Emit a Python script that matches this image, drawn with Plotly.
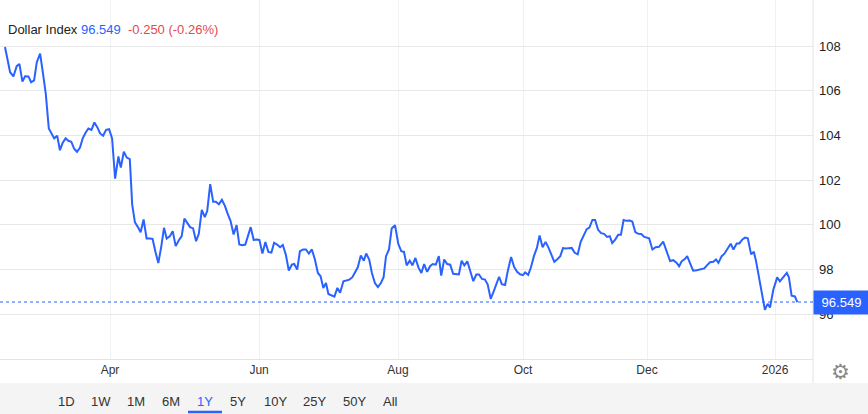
import plotly.graph_objects as go

# ---------------- data ----------------
session = [
    0.0, 1.7, 2.8, 3.9, 4.8, 5.8, 6.7, 7.8, 8.7, 9.7, 10.6, 11.7, 12.6, 13.6, 14.6, 15.6,
    16.4, 17.4, 18.3, 19.2, 20.2, 21.1, 22.1, 23.0, 24.0, 25.0, 25.9, 26.9, 27.8, 28.8,
    29.8, 30.8, 31.7, 32.7, 33.7, 34.7, 35.7, 36.7, 37.8, 38.6, 39.6, 40.6, 41.6, 42.4,
    43.3, 44.3, 45.2, 46.2, 47.2, 48.3, 49.2, 50.1, 51.1, 52.1,
    53.0, 53.9, 55.0, 55.9, 56.9, 57.9, 58.9, 59.8, 60.8, 61.7, 62.7, 63.7, 64.6, 65.6,
    66.6, 67.4, 68.4, 69.4, 70.3, 71.3, 72.3, 73.3, 74.2, 75.2, 76.2, 77.2, 78.1, 79.1,
    80.1, 81.0, 81.9, 82.9, 83.9, 84.8, 85.8, 86.8, 87.8, 88.8, 89.7, 90.7, 91.7, 92.6,
    93.6, 94.6, 95.6, 96.4, 97.4, 98.3, 99.4, 100.3, 101.3, 102.3, 103.3, 104.3, 105.2,
    106.1, 107.0,
    107.8, 108.9, 109.8, 110.8, 111.7, 112.8, 113.9, 114.8, 115.8, 116.7, 117.6, 118.6,
    119.6, 120.4, 121.4, 122.3, 123.3, 124.3, 125.3, 126.2, 127.0, 128.0, 128.9, 130.0,
    131.1, 132.1, 133.0, 133.9, 134.9, 135.8, 136.8, 137.8, 138.8, 139.7, 140.7, 141.7,
    142.6, 143.6, 144.6, 145.4, 146.4, 147.4, 148.4, 149.4, 150.4, 151.3, 152.2, 153.1,
    154.1, 155.1, 156.1, 157.1, 158.0, 159.0, 160.0, 160.9,
    161.9, 162.8, 163.7, 164.7, 165.6, 166.7, 167.6, 168.7, 169.7, 170.7, 171.7, 172.6,
    173.4, 174.4, 175.3, 176.3, 177.3, 178.2, 179.2, 180.2, 181.2, 182.1, 183.1, 184.1,
    185.1, 186.0, 187.0, 187.9, 188.9, 189.9, 190.9, 191.9, 192.9, 193.9, 194.8, 195.8,
    196.7, 197.7, 198.7, 199.7, 200.7, 201.6, 202.4, 203.4, 204.4, 205.3, 206.2, 207.2,
    208.2, 209.1, 210.1, 211.1, 212.1, 213.1,
    214.7, 215.8, 216.9, 218.0, 219.4, 220.6, 221.7, 222.8, 223.9, 224.7, 225.6, 226.7,
    227.4, 228.3, 229.4, 230.6, 231.7, 233.1, 233.9, 235.0, 236.1, 237.0, 237.8, 238.9,
    239.8, 240.9, 241.9, 242.8, 243.9, 244.8, 245.8, 246.7, 247.6, 248.7, 249.6, 250.3,
    251.1, 252.2, 253.3, 254.2, 255.0, 256.1, 257.4, 258.3, 259.4, 260.6, 261.3, 262.2,
    263.3, 264.1,
]

dxy = [
    107.96, 106.83, 106.64, 107.10, 107.20, 106.41, 106.65, 106.64, 106.38, 106.46, 107.28,
    107.66, 106.83, 105.86, 104.31, 104.09, 103.87, 103.99, 103.34, 103.66, 103.87, 103.76,
    103.72, 103.42, 103.27, 103.46, 103.87, 104.13, 104.31, 104.25, 104.58, 104.36, 104.09,
    103.99, 104.25, 104.28, 103.87, 102.07, 103.06, 102.56, 103.27, 103.01, 102.94, 100.91,
    100.12, 99.90, 99.67, 100.24, 99.39, 99.39, 99.37, 98.82, 98.29, 99.04,
    99.87, 99.39, 99.50, 99.72, 99.05, 99.30, 99.50, 100.28, 100.05, 99.90, 99.84, 99.27,
    99.60, 100.67, 100.35, 100.62, 101.82, 101.03, 101.03, 100.92, 101.12, 100.85, 100.50,
    100.17, 99.57, 99.99, 99.12, 99.09, 99.12, 99.50, 99.90, 99.32, 99.35, 99.33, 98.72,
    99.23, 98.79, 98.76, 99.20, 99.12, 99.00, 99.10, 98.67, 97.96, 98.22, 98.25, 98.00,
    98.82, 98.90, 98.90, 98.72, 98.90, 98.45, 97.85, 97.70, 97.18, 97.40,
    96.91, 96.84, 96.79, 97.18, 96.96, 97.48, 97.51, 97.55, 97.66, 97.85, 98.10, 98.63,
    98.40, 98.72, 98.45, 97.85, 97.40, 97.22, 97.40, 97.66, 98.60, 98.90, 99.84, 99.99,
    99.15, 98.82, 98.79, 98.19, 98.40, 98.19, 98.52, 98.10, 97.85, 98.25, 97.90, 98.15,
    98.25, 98.22, 98.60, 97.73, 98.45, 98.25, 98.22, 97.81, 97.78, 97.78, 98.40, 98.19,
    98.37, 97.90, 97.48, 97.78, 97.78, 97.58, 97.55, 97.33,
    96.69, 96.99, 97.35, 97.68, 97.35, 97.31, 97.94, 98.56, 98.12, 97.90, 97.79, 97.75,
    97.87, 97.76, 98.09, 98.60, 98.97, 99.53, 99.00, 99.24, 98.97, 98.71, 98.35, 98.46,
    98.60, 98.96, 98.94, 98.96, 98.97, 98.75, 98.68, 99.24, 99.56, 99.81, 99.88, 100.22,
    100.22, 99.78, 99.63, 99.60, 99.46, 99.49, 99.19, 99.34, 99.56, 99.56, 100.22, 100.18,
    100.19, 100.15, 99.68, 99.60, 99.59, 99.46,
    99.40, 98.90, 99.00, 99.02, 99.25, 98.75, 98.38, 98.42, 98.30, 98.15, 98.38, 98.48,
    98.60, 98.30, 97.95, 97.97, 98.00, 98.05, 98.18, 98.33, 98.35, 98.45, 98.30, 98.60,
    98.71, 98.95, 99.16, 98.90, 99.17, 99.17, 99.35, 99.43, 99.40, 98.68, 98.80, 98.41,
    97.80, 97.02, 96.20, 96.47, 96.30, 97.10, 97.65, 97.47, 97.67, 97.85, 97.65, 96.83,
    96.80, 96.549,
]

x_tick_sessions = [35, 84.7, 131, 172.7, 214, 256.7]
x_tick_labels = ["Apr", "Jun", "Aug", "Oct", "Dec", "2026"]
y_ticks = [96, 98, 100, 102, 104, 106, 108]

series_name = "Dollar Index"
last_value = 96.549
change = -0.250
change_pct = -0.26

range_buttons = ["1D", "1W", "1M", "6M", "1Y", "5Y", "10Y", "25Y", "50Y", "All"]
active_button = "1Y"

# ---------------- layout constants ----------------
W, H = 868, 414
PLOT_W, PLOT_H = 813, 359
BLUE = "#2962ff"
RED = "#e5484d"
FONT = "Arial, Liberation Sans, sans-serif"


def px_x(px):
    return px / PLOT_W


def px_y(py):
    return (PLOT_H - py) / PLOT_H


fig = go.Figure()
fig.add_trace(go.Scatter(
    x=session, y=dxy, mode="lines",
    line=dict(color=BLUE, width=2), hoverinfo="skip", showlegend=False,
))

shapes = [
    # bottom control band
    dict(type="rect", xref="paper", yref="paper", x0=0, x1=W / PLOT_W,
         y0=px_y(383), y1=px_y(H + 2), fillcolor="#f4f4f4", line=dict(width=0), layer="below"),
    # right separator line
    dict(type="line", xref="paper", yref="paper", x0=1, x1=1, y0=px_y(383), y1=1,
         line=dict(color="#e3e3e3", width=1)),
    # last value dotted line
    dict(type="line", xref="paper", yref="y", x0=0, x1=1, y0=last_value, y1=last_value,
         line=dict(color=BLUE, width=1, dash="dot")),
]

annotations = [
    dict(xref="paper", yref="paper", x=px_x(6), y=px_y(30), xanchor="left", yanchor="middle",
         showarrow=False, font=dict(family=FONT, size=13, color="#222"),
         text=(f"{series_name} <span style='color:{BLUE}'>{last_value:.3f}</span>"
               f"&nbsp;&nbsp;<span style='color:{RED}'>{change:.3f} ({change_pct:.2f}%)</span>")),
    dict(xref="paper", yref="y", x=1, y=last_value, xanchor="left", yanchor="middle",
         showarrow=False, text=f"{last_value:.3f}", bgcolor=BLUE, width=51, height=19,
         borderpad=2, font=dict(family=FONT, size=13, color="white")),
    dict(xref="paper", yref="paper", x=px_x(840), y=px_y(372), xanchor="center",
         yanchor="middle", showarrow=False, text="⚙", font=dict(size=21, color="#888")),
]

button_x = [66, 101, 136, 171, 205, 238, 275, 314, 354, 390]
for label, bx in zip(range_buttons, button_x):
    annotations.append(dict(
        xref="paper", yref="paper", x=px_x(bx), y=px_y(401), xanchor="center", yanchor="middle",
        showarrow=False, text=label,
        font=dict(family=FONT, size=13, color=BLUE if label == active_button else "#333"),
    ))
    if label == active_button:
        shapes.append(dict(type="line", xref="paper", yref="paper",
                           x0=px_x(bx - 17), x1=px_x(bx + 17), y0=px_y(412), y1=px_y(412),
                           line=dict(color=BLUE, width=2.5)))

fig.update_layout(
    width=W, height=H,
    margin=dict(l=0, r=W - PLOT_W, t=0, b=H - PLOT_H),
    paper_bgcolor="white", plot_bgcolor="white",
    font=dict(family=FONT, color="#222"),
    shapes=shapes, annotations=annotations,
    xaxis=dict(
        range=[-5 / 3, (PLOT_W - 5) / 3], tickvals=x_tick_sessions, ticktext=x_tick_labels,
        showgrid=True, gridcolor="#eef2f2", gridwidth=1, zeroline=False,
        showline=True, linecolor="#e3e3e3", linewidth=1, ticks="",
        tickfont=dict(family=FONT, size=12, color="#333"), fixedrange=True,
    ),
    yaxis=dict(
        side="right", range=[94, 110.06], tickvals=y_ticks,
        showgrid=True, gridcolor="#e8e8e8", gridwidth=1, zeroline=False,
        showline=False, ticks="", ticklabelstandoff=5,
        tickfont=dict(family=FONT, size=13, color="#222"), fixedrange=True,
    ),
)

fig.write_html(
    "out.html",
    config={"displayModeBar": False},
    post_script="document.body.style.margin='0';document.body.style.overflow='hidden';",
)
